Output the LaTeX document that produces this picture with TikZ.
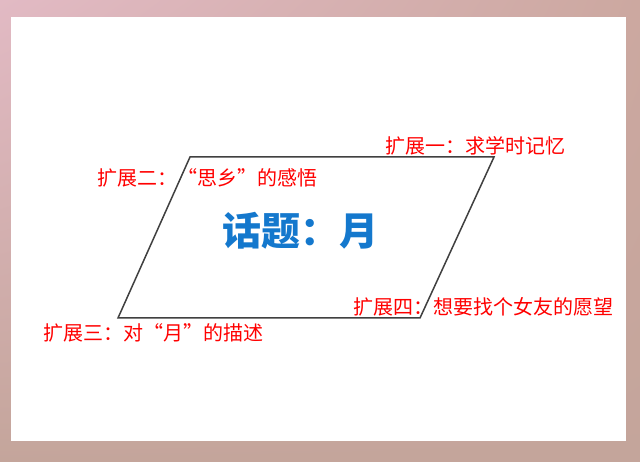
\documentclass[tikz,border=0pt]{standalone}
\usepackage{fontspec}
\usetikzlibrary{shadings}
\newfontfamily\cjk{Noto Sans CJK SC}
\definecolor{bgpink}{RGB}{226,186,196}
\definecolor{bgbrown}{RGB}{204,168,160}
\definecolor{bgbottom}{RGB}{196,165,155}
\definecolor{titleblue}{RGB}{20,120,205}
\definecolor{linegray}{RGB}{64,64,64}
\tikzset{
  lbl/.style={inner sep=0pt, text=red, font=\cjk\fontsize{20}{22}\selectfont},
  ttl/.style={inner sep=0pt, text=titleblue, font=\cjk\bfseries\fontsize{39}{44}\selectfont},
  outline/.style={draw=linegray, line width=1.5pt, line join=miter}
}
\begin{document}
\begin{tikzpicture}[x=1pt,y=-1pt]
\useasboundingbox (0,0) rectangle (640,462);
\shade[upper left=bgpink, upper right=bgbrown, lower left=bgbottom, lower right=bgbottom] (0,0) rectangle (640,462);
\fill[white] (11,17) rectangle (626,441);
\coordinate (tl) at (190,157);
\coordinate (tr) at (494,157);
\coordinate (br) at (420,318);
\coordinate (bl) at (118,318);
\draw[outline] (tl) -- (tr) -- (br) -- (bl) -- cycle;
\node[ttl] (title) at (300,231) {话题：月};
\node[lbl, anchor=west] (e1) at (385,146) {扩展一：求学时记忆};
\node[lbl, anchor=west] (e2) at (97,178) {扩展二：“思乡”的感悟};
\node[lbl, anchor=west] (e3) at (43,333) {扩展三：对“月”的描述};
\node[lbl, anchor=west] (e4) at (353,307) {扩展四：想要找个女友的愿望};
\end{tikzpicture}
\end{document}
